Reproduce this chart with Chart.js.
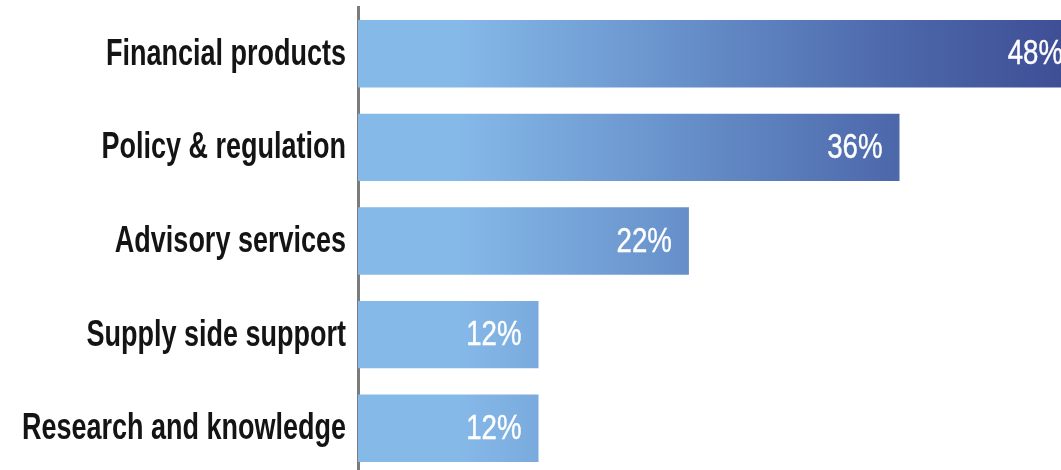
<!DOCTYPE html>
<html>
<head>
<meta charset="utf-8">
<script src="https://cdn.jsdelivr.net/npm/chart.js@4/dist/chart.umd.min.js"></script>
<style>
  html, body { margin: 0; padding: 0; background: #fff; overflow: hidden; }
  #wrap { width: 1080px; height: 475px; position: relative; }
</style>
</head>
<body>
<div id="wrap"><canvas id="bars"></canvas></div>
<script>
const CATEGORIES = ['Financial products', 'Policy & regulation', 'Advisory services', 'Supply side support', 'Research and knowledge'];
const VALUES = [48, 36, 22, 12, 12];

const FONT = "'Liberation Sans', Arial, sans-serif";

// gradient spans the whole plot width, so short bars stay light
function barGradient(ctx) {
  const chart = ctx.chart;
  const area = chart.chartArea;
  if (!area) return '#85b9e8';
  const g = chart.ctx.createLinearGradient(area.left, 0, area.right, 0);
  g.addColorStop(0, '#85b9e8');
  g.addColorStop(0.14, '#85b9e8');
  g.addColorStop(0.45, '#6790ca');
  g.addColorStop(0.75, '#4c67aa');
  g.addColorStop(1, '#3d4c94');
  return g;
}

// no condensed font installed, so squeeze the text horizontally
function narrowText(c, text, x, y, squeeze, stroke) {
  c.save();
  c.translate(x, y);
  c.scale(squeeze, 1);
  c.fillText(text, 0, 0);
  if (stroke) c.strokeText(text, 0, 0);
  c.restore();
}

const labelsPlugin = {
  id: 'labelsPlugin',
  afterDatasetsDraw(chart) {
    const c = chart.ctx;
    const yScale = chart.scales.y;
    const meta = chart.getDatasetMeta(0);
    c.save();
    c.textAlign = 'right';
    c.textBaseline = 'middle';

    // category labels left of the axis
    c.fillStyle = '#141414';
    c.font = `bold 36px ${FONT}`;
    CATEGORIES.forEach((label, i) => {
      narrowText(c, label, yScale.right - 12, yScale.getPixelForValue(i) + 1, 0.75);
    });

    // white % labels inside the bar ends (a thin stroke to look semibold)
    c.fillStyle = '#ffffff';
    c.strokeStyle = '#ffffff';
    c.lineWidth = 0.4;
    c.font = `35px ${FONT}`;
    meta.data.forEach((bar, i) => {
      narrowText(c, VALUES[i] + '%', bar.x - 17, bar.y + 1, 0.79, true);
    });
    c.restore();
  }
};

new Chart(document.getElementById('bars'), {
  type: 'bar',
  data: {
    labels: CATEGORIES,
    datasets: [{
      data: VALUES,
      backgroundColor: barGradient,
      borderWidth: 0,
      barPercentage: 1,
      categoryPercentage: 0.72,
    }]
  },
  options: {
    indexAxis: 'y',
    responsive: true,
    maintainAspectRatio: false,
    animation: false,
    layout: { padding: { top: 7, left: 0, right: 0, bottom: 0 } },
    plugins: {
      legend: { display: false },
      tooltip: { enabled: false },
    },
    scales: {
      x: {
        display: false,
        min: 0,
        max: 48,
      },
      y: {
        afterFit: (scale) => {
          scale.width = 358;
          scale.paddingTop = 0;
          scale.paddingBottom = 0;
        },
        grid: { display: false, drawTicks: false },
        border: { display: true, color: '#7c7c7c', width: 3 },
        ticks: { display: false },
      }
    }
  },
  plugins: [labelsPlugin]
});
</script>
</body>
</html>
